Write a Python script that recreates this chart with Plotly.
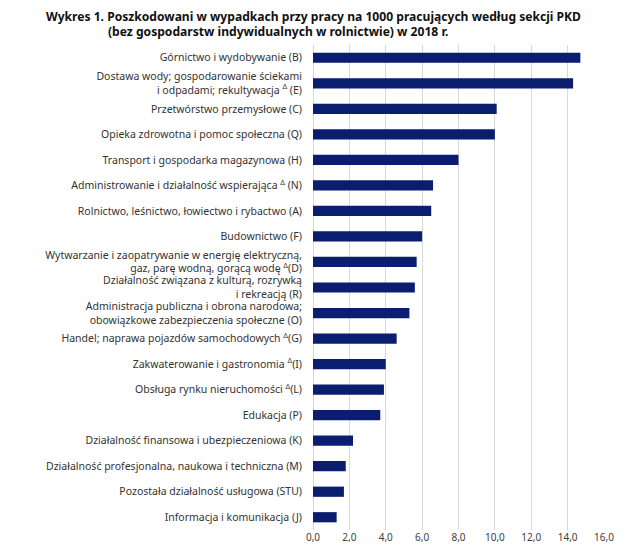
import plotly.graph_objects as go

# sekcje PKD, od najwyższego wskaźnika
categories = [
    "Górnictwo i wydobywanie (B)",
    "Dostawa wody; gospodarowanie ściekami<br>i odpadami; rekultywacja <sup>Δ</sup> (E)",
    "Przetwórstwo przemysłowe (C)",
    "Opieka zdrowotna i pomoc społeczna (Q)",
    "Transport i gospodarka magazynowa (H)",
    "Administrowanie i działalność wspierająca <sup>Δ</sup> (N)",
    "Rolnictwo, leśnictwo, łowiectwo i rybactwo (A)",
    "Budownictwo (F)",
    "Wytwarzanie i zaopatrywanie w energię elektryczną,<br>gaz, parę wodną, gorącą wodę <sup>Δ</sup>(D)",
    "Działalność związana z kulturą, rozrywką<br>i rekreacją (R)",
    "Administracja publiczna i obrona narodowa;<br>obowiązkowe zabezpieczenia społeczne (O)",
    "Handel; naprawa pojazdów samochodowych <sup>Δ</sup>(G)",
    "Zakwaterowanie i gastronomia <sup>Δ</sup>(I)",
    "Obsługa rynku nieruchomości <sup>Δ</sup>(L)",
    "Edukacja (P)",
    "Działalność finansowa i ubezpieczeniowa (K)",
    "Działalność profesjonalna, naukowa i techniczna (M)",
    "Pozostała działalność usługowa (STU)",
    "Informacja i komunikacja (J)",
]
values = [14.7, 14.3, 10.1, 10.0, 8.0, 6.6, 6.5, 6.0, 5.7, 5.6,
          5.3, 4.6, 4.0, 3.9, 3.7, 2.2, 1.8, 1.7, 1.3]
x_ticks = [0, 2, 4, 6, 8, 10, 12, 14, 16]

title_lines = [
    "Wykres 1. Poszkodowani w wypadkach przy pracy na 1000 pracujących według sekcji PKD",
    "(bez gospodarstw indywidualnych w rolnictwie) w 2018 r.",
]

FONT = "Noto Sans"
BAR_COLOR = "#0b1d6e"

fig = go.Figure(
    go.Bar(
        x=values,
        y=categories,
        orientation="h",
        marker=dict(color=BAR_COLOR, line=dict(width=0)),
        width=0.4,
        hoverinfo="x+y",
    )
)

# the page body adds an 8px margin, so the figure is a bit smaller than the window
fig.update_layout(
    width=632,
    height=551,
    paper_bgcolor="white",
    plot_bgcolor="white",
    separators=", ",
    showlegend=False,
    margin=dict(l=305, r=36, t=37, b=29, autoexpand=False),
    font=dict(family=FONT, size=10.5, color="#333333"),
)

fig.add_annotation(
    text="<b>" + title_lines[0] + "</b>",
    xref="paper", yref="paper", x=-0.924, y=1.0, yshift=29,
    xanchor="left", yanchor="middle", showarrow=False,
    font=dict(family=FONT, size=12.1, color="#111111"),
)
fig.add_annotation(
    text="<b>" + title_lines[1] + "</b>",
    xref="paper", yref="paper", x=-0.711, y=1.0, yshift=14,
    xanchor="left", yanchor="middle", showarrow=False,
    font=dict(family=FONT, size=12.1, color="#111111"),
)

fig.update_xaxes(
    range=[0, 16],
    tickvals=x_ticks,
    tickformat=".1f",
    showgrid=True,
    gridcolor="#d9d9d9",
    gridwidth=1,
    zeroline=True,
    zerolinecolor="#d9d9d9",
    zerolinewidth=1,
    showline=False,
    ticks="",
    tickfont=dict(size=10, color="#404040"),
)
fig.update_yaxes(
    autorange="reversed",
    showgrid=False,
    showline=False,
    ticks="",
    ticklabelstandoff=10,
    tickfont=dict(size=10.5, color="#333333"),
)

fig.write_html("out.html")
